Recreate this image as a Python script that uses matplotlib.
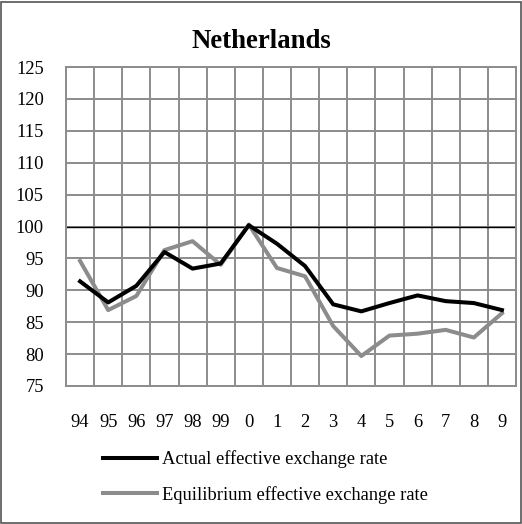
import matplotlib.pyplot as plt
from matplotlib.patches import Rectangle
from matplotlib.ticker import MultipleLocator, FixedLocator

years = ["94", "95", "96", "97", "98", "99", "0", "1", "2", "3", "4", "5", "6", "7", "8", "9"]
actual = [91.4, 88.1, 90.7, 96.0, 93.4, 94.2, 100.2, 97.3, 93.8, 87.8, 86.7, 88.0, 89.2, 88.3, 88.0, 86.9]
equilibrium = [94.6, 86.9, 89.1, 96.3, 97.7, 94.0, 100.3, 93.5, 92.2, 84.4, 79.7, 82.9, 83.2, 83.8, 82.6, 86.4]

plt.rcParams['font.family'] = ['Liberation Serif', 'DejaVu Serif']

fig = plt.figure(figsize=(5.22, 5.24), dpi=100)
ax = fig.add_axes([66 / 522, 1 - 386 / 524, 450 / 522, 319 / 524])

x = range(len(years))
ax.plot(x, actual, color="black", lw=2.9, label="Actual effective exchange rate", zorder=4)
ax.plot(x, equilibrium, color="#8c8c8c", lw=2.9, label="Equilibrium effective exchange rate", zorder=3)
ax.axhline(100, color="black", lw=1.0, zorder=2)

ax.set_xlim(-0.5, len(years) - 0.5)
ax.set_ylim(75, 125)
ax.yaxis.set_major_locator(MultipleLocator(5))
ax.set_xticks(list(x))
ax.set_xticklabels(years)
ax.xaxis.set_minor_locator(FixedLocator([i - 0.5 for i in range(len(years) + 1)]))
ax.grid(True, which="minor", axis="x", color="#8c8c8c", lw=1.4)
ax.grid(True, which="major", axis="y", color="#8c8c8c", lw=1.4)
ax.set_axisbelow(True)
for s in ax.spines.values():
    s.set_color("#8c8c8c")
    s.set_linewidth(1.4)
ax.tick_params(axis="both", which="both", length=0, labelsize=13.3)
ax.tick_params(axis="y", pad=16)
ax.tick_params(axis="x", pad=20)

fig.text(261 / 522, 1 - 41 / 524, "Netherlands", ha="center", va="center",
         fontsize=19.3, fontweight="bold")

fig.legend(loc="center left", bbox_to_anchor=(103 / 522, 1 - 477 / 524),
           frameon=False, fontsize=13.3, handlelength=2.9, handletextpad=0.3,
           labelspacing=0.95, borderpad=0, borderaxespad=0)

fig.patches.append(Rectangle((1 / 522, 1 / 524), 520 / 522, 521 / 524, transform=fig.transFigure,
                             fill=False, edgecolor="#555555", lw=1.2))

plt.savefig("out.png", dpi=100)
